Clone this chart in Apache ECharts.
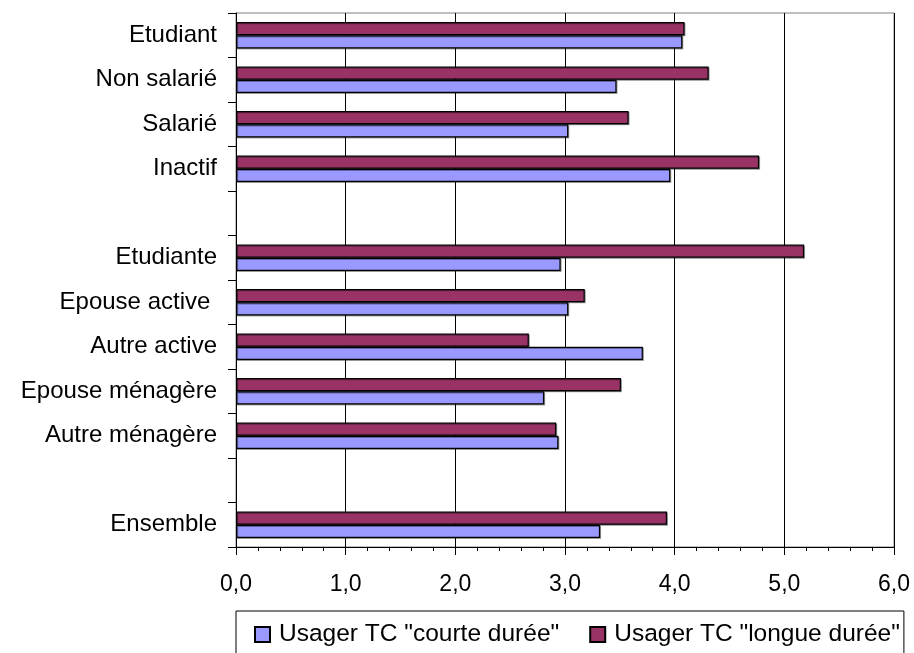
<!DOCTYPE html>
<html>
<head>
<meta charset="utf-8">
<script src="https://cdn.jsdelivr.net/npm/echarts@6/dist/echarts.min.js"></script>
<style>
html, body { margin: 0; padding: 0; background: #fff; }
#chart { width: 914px; height: 653px; }
</style>
</head>
<body>
<div id="chart"></div>
<script>
const categories = ['Etudiant', 'Non salarié', 'Salarié', 'Inactif', ' ', 'Etudiante', 'Epouse active ', 'Autre active', 'Epouse ménagère', 'Autre ménagère', '  ', 'Ensemble'];
const courteDuree = [4.07, 3.47, 3.03, 3.96, null, 2.96, 3.03, 3.71, 2.81, 2.94, null, 3.32];
const longueDuree = [4.09, 4.31, 3.58, 4.77, null, 5.18, 3.18, 2.67, 3.51, 2.92, null, 3.93];
const seriesNames = ['Usager TC "courte durée"', 'Usager TC "longue durée"'];
const xTicks = [0, 1, 2, 3, 4, 5, 6];

const FONT = "'Liberation Sans', Arial, sans-serif";
const chart = echarts.init(document.getElementById('chart'), null, { renderer: 'canvas' });

const barStyle = (color) => ({
  color: color,
  borderColor: '#000',
  borderWidth: 1.2,
  shadowColor: 'rgba(0,0,0,0.35)',
  shadowOffsetX: 1,
  shadowOffsetY: 1,
  shadowBlur: 0
});

chart.setOption({
  animation: false,
  backgroundColor: '#fff',
  grid: {
    left: 236, top: 13, width: 658, height: 534,
    show: true, borderColor: '#808080', borderWidth: 1, backgroundColor: 'transparent'
  },
  legend: {
    left: 236, top: 611,
    data: seriesNames,
    orient: 'horizontal',
    itemWidth: 15, itemHeight: 15, itemGap: 30,
    icon: 'rect',
    padding: [11, 4, 11, 18],
    borderColor: '#000', borderWidth: 1,
    textStyle: { fontFamily: FONT, fontSize: 24.5, color: '#000', padding: [0, 0, 0, 4] }
  },
  xAxis: {
    type: 'value',
    min: xTicks[0], max: xTicks[xTicks.length - 1], interval: 1,
    axisLine: { show: true, lineStyle: { color: '#000', width: 1 } },
    axisTick: { show: true, length: 8, lineStyle: { color: '#000' } },
    minorTick: { show: true, splitNumber: 5, length: 4, lineStyle: { color: '#000' } },
    splitLine: { show: true, lineStyle: { color: '#000', width: 1 } },
    axisLabel: {
      fontFamily: FONT, fontSize: 23, color: '#000', margin: 26,
      formatter: (v) => v.toFixed(1).replace('.', ',')
    }
  },
  yAxis: {
    type: 'category',
    inverse: true,
    data: categories,
    axisLine: { show: true, lineStyle: { color: '#000', width: 1 } },
    axisTick: { show: true, length: 8, lineStyle: { color: '#000' } },
    splitLine: { show: false },
    axisLabel: { fontFamily: FONT, fontSize: 24, color: '#000', margin: 19, interval: 0 }
  },
  series: [
    {
      name: seriesNames[1], type: 'bar', data: longueDuree,
      barGap: '0%', barCategoryGap: '41%',
      itemStyle: barStyle('#993366')
    },
    {
      name: seriesNames[0], type: 'bar', data: courteDuree,
      barGap: '0%', barCategoryGap: '41%',
      itemStyle: barStyle('#9999FF')
    }
  ]
});
</script>
</body>
</html>
